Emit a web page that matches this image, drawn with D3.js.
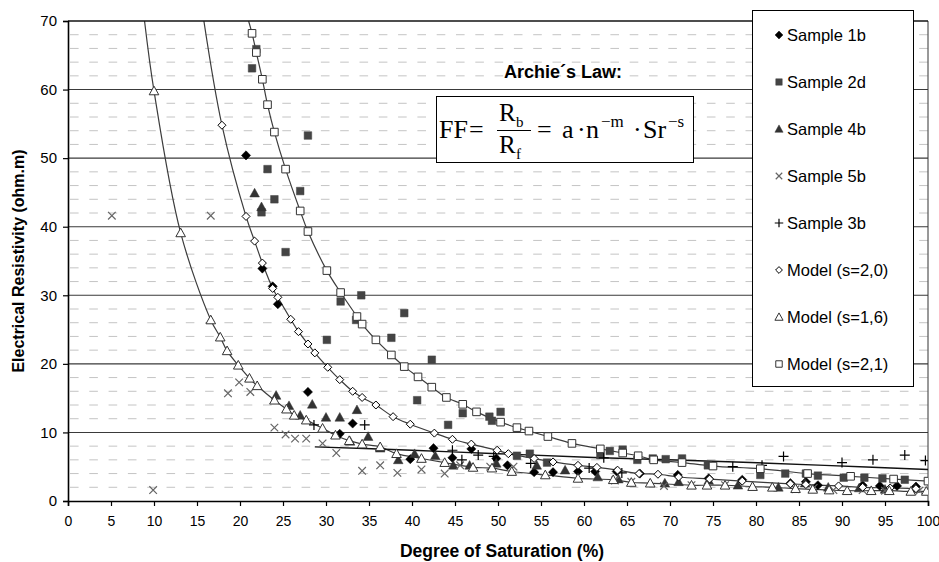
<!DOCTYPE html>
<html>
<head>
<meta charset="utf-8">
<script src="https://cdn.jsdelivr.net/npm/d3@7"></script>
<style>
  body { margin: 0; background: #fff; }
  svg { display: block; }
</style>
</head>
<body>
<svg id="chart"></svg>
<script>
const width = 939
const height = 562

// Axis ticks
const xTicks = [0, 5, 10, 15, 20, 25, 30, 35, 40, 45, 50, 55, 60, 65, 70, 75, 80, 85, 90, 95, 100]
const yTicks = [0, 10, 20, 30, 40, 50, 60, 70]
const yMinor = [2, 4, 6, 8, 12, 14, 16, 18, 22, 24, 26, 28, 32, 34, 36, 38, 42, 44, 46, 48, 52, 54, 56, 58, 62, 64, 66, 68]

// [saturation %, resistivity ohm.m]
const sample1b = [[20.7, 50.4], [22.6, 33.9], [23.8, 31.3], [24.4, 28.7], [27.9, 15.9], [31.6, 9.8], [33.1, 11.3],
  [39.8, 6.1], [42.5, 7.7], [44.7, 6.3], [46.9, 7.6], [49.8, 6.2], [51.1, 5.2], [54.2, 4.2], [56.4, 4.2], [59.3, 4.3],
  [61.3, 4.3], [63.8, 4.3], [66.5, 4.0], [70.9, 3.8], [74.5, 3.3], [78.4, 3.1], [84.0, 2.6], [85.8, 2.8], [87.2, 2.3],
  [92.4, 2.3], [94.4, 2.2], [96.4, 2.2], [98.6, 2.1]]
const sample2d = [[21.9, 65.9], [21.4, 63.1], [27.9, 53.3], [23.2, 48.4], [27.0, 45.2], [24.0, 44.0], [22.5, 42.1],
  [25.3, 36.3], [34.1, 30.0], [31.7, 29.1], [39.1, 27.4], [33.5, 26.4], [30.1, 23.5], [37.6, 23.8], [42.3, 20.6],
  [40.6, 14.7], [44.2, 11.1], [45.9, 12.8], [49.0, 12.3], [49.3, 11.7], [50.3, 13.0], [52.2, 6.6], [53.7, 6.9],
  [55.7, 5.6], [61.9, 6.7], [63.0, 7.3], [64.5, 7.5], [66.2, 6.0], [68.0, 6.2], [69.5, 6.1], [71.4, 6.2], [74.4, 5.2],
  [80.5, 3.8], [83.4, 4.0], [85.8, 4.0], [87.2, 3.7], [90.2, 3.4], [92.6, 3.4], [94.7, 3.3], [97.3, 3.1]]
const sample4b = [[21.7, 44.9], [22.5, 42.9], [24.2, 15.4], [25.7, 13.9], [27.0, 12.5], [28.4, 14.1], [30.0, 12.2],
  [31.6, 12.2], [33.6, 13.3], [32.8, 8.7], [34.9, 9.4], [36.3, 7.7], [38.4, 6.0], [40.3, 6.9], [42.7, 6.6], [44.8, 5.2],
  [46.7, 5.2], [49.8, 5.5], [54.5, 5.2], [57.8, 4.5], [61.6, 3.5], [64.0, 3.2], [69.4, 2.6], [71.0, 2.8], [74.5, 3.0],
  [77.9, 2.3], [82.6, 2.0], [85.7, 2.6], [88.4, 2.0], [92.0, 1.9], [95.0, 1.7], [98.5, 1.8]]
const sample5b = [[5.1, 41.6], [9.9, 1.6], [16.6, 41.6], [18.6, 15.7], [19.9, 17.3], [21.2, 15.9], [24.0, 10.7],
  [25.3, 9.7], [26.4, 9.1], [27.7, 9.1], [29.6, 8.4], [31.2, 7.0], [34.2, 4.4], [36.3, 5.2], [38.3, 4.1], [41.1, 4.6],
  [43.8, 4.0], [45.6, 5.2], [49.1, 5.0], [51.8, 5.0], [63.6, 3.0], [65.5, 2.8], [69.3, 2.2], [72.5, 2.3], [76.4, 2.3],
  [84.6, 1.7], [86.7, 1.9], [89.0, 1.6], [92.4, 1.6], [95.0, 1.5], [99.0, 1.5]]
const sample3b = [[28.6, 11.1], [34.5, 11.1], [44.7, 7.4], [45.8, 6.0], [47.7, 6.7], [49.5, 6.5], [53.8, 5.5],
  [60.6, 4.8], [62.3, 6.3], [64.4, 4.1], [77.3, 5.0], [80.7, 5.2], [83.2, 6.5], [90.0, 5.6], [93.6, 6.0], [97.3, 6.7],
  [99.7, 5.9]]
const model20 = [[17.9, 54.8], [20.7, 41.5], [21.7, 37.9], [22.6, 34.7], [23.8, 31.0], [24.4, 29.7], [25.9, 26.5],
  [26.8, 24.7], [27.9, 22.9], [28.7, 21.6], [30.2, 19.5], [31.6, 17.7], [33.1, 16.0], [34.2, 15.1], [35.8, 14.0],
  [37.8, 12.3], [39.8, 11.2], [42.6, 9.9], [44.7, 9.0], [46.9, 8.3], [49.9, 7.4], [51.2, 6.9], [54.2, 6.2], [56.4, 5.7],
  [59.3, 5.2], [61.5, 4.9], [63.9, 4.5], [66.4, 4.0], [68.6, 3.9], [71.0, 3.5], [74.6, 3.2], [78.4, 2.9], [84.0, 2.5],
  [85.8, 2.4], [89.6, 2.2], [92.4, 2.0], [95.6, 1.9], [98.6, 1.8]]
const model16 = [[10.0, 59.8], [13.1, 39.1], [16.6, 26.4], [17.7, 23.9], [18.5, 21.9], [19.8, 19.8], [21.1, 17.9],
  [22.0, 16.8], [24.0, 14.7], [25.4, 13.4], [26.3, 12.5], [27.7, 11.8], [29.6, 10.6], [31.1, 9.6], [32.7, 8.8],
  [34.2, 8.3], [36.3, 7.9], [38.2, 6.9], [41.1, 6.2], [43.8, 5.6], [47.1, 4.9], [49.3, 4.8], [51.6, 4.3], [55.5, 3.8],
  [59.3, 3.3], [63.4, 3.1], [65.5, 2.7], [67.7, 2.6], [72.5, 2.3], [74.3, 2.3], [76.4, 2.3], [79.6, 2.1], [81.9, 2.0],
  [84.6, 1.8], [86.6, 1.7], [88.5, 1.6], [90.6, 1.5], [93.4, 1.5], [95.5, 1.5], [98.0, 1.4], [99.8, 1.4]]
const model21 = [[21.4, 68.2], [21.9, 65.4], [22.6, 61.5], [23.2, 57.8], [24.0, 53.8], [25.3, 48.4], [27.0, 42.3],
  [27.9, 39.3], [30.1, 33.6], [31.7, 30.4], [33.6, 26.9], [34.2, 25.8], [35.8, 23.5], [37.6, 21.3], [39.1, 19.6],
  [40.7, 18.1], [42.3, 16.6], [44.0, 15.1], [45.9, 14.1], [47.5, 13.0], [50.3, 11.5], [52.2, 10.7], [53.6, 10.2],
  [55.8, 9.4], [58.6, 8.4], [61.9, 7.6], [64.5, 7.0], [66.3, 6.6], [68.1, 6.0], [71.4, 5.6], [75.0, 5.1], [80.5, 4.7],
  [86.0, 4.0], [91.0, 3.6], [96.0, 3.2], [100.0, 2.9]]
// where each model curve leaves the top of the plot
const model20Top = [15.8, 70]
const model16Top = [8.9, 70]
const model21Top = [21.0, 70]
// trend line through sample 3b
const trend3b = [[28.7, 7.9], [40, 7.4], [50, 6.9], [62, 6.3], [75, 5.8], [88, 5.2], [100, 4.6]]

const seriesNames = ['Sample 1b', 'Sample 2d', 'Sample 4b', 'Sample 5b', 'Sample 3b',
  'Model (s=2,0)', 'Model (s=1,6)', 'Model (s=2,1)']

const sans = 'Arial, "Liberation Sans", sans-serif'
const serif = '"Liberation Serif", "Times New Roman", serif'

// marker shapes
function shapePath(shape, r) {
  if (shape === 'diamond') return `M0,${-r}L${r},0L0,${r}L${-r},0Z`
  if (shape === 'square') return `M${-r},${-r}h${2 * r}v${2 * r}h${-2 * r}Z`
  if (shape === 'triangle') return `M0,${-r}L${r},${r * 0.8}L${-r},${r * 0.8}Z`
  if (shape === 'x') return `M${-r},${-r}L${r},${r}M${-r},${r}L${r},${-r}`
  return `M${-r},0H${r}M0,${-r}V${r}`
}

const series = [
  { data: sample1b, shape: 'diamond', r: 4.6, fill: '#000', stroke: '#000', sw: 0.5 },
  { data: sample2d, shape: 'square', r: 3.8, fill: '#444', stroke: '#444', sw: 0.5 },
  { data: sample4b, shape: 'triangle', r: 4.8, fill: '#333', stroke: '#333', sw: 0.5 },
  { data: sample5b, shape: 'x', r: 3.8, fill: 'none', stroke: '#666', sw: 1.2 },
  { data: sample3b, shape: 'plus', r: 5, fill: 'none', stroke: '#000', sw: 1.2 },
  { data: model20, shape: 'diamond', r: 4, fill: '#fff', stroke: '#000', sw: 1, top: model20Top },
  { data: model16, shape: 'triangle', r: 4.8, fill: '#fff', stroke: '#333', sw: 1, top: model16Top },
  { data: model21, shape: 'square', r: 3.8, fill: '#fff', stroke: '#333', sw: 1, top: model21Top }
]

const svg = d3.select('#chart')
  .attr('width', width)
  .attr('height', height)
  .attr('font-family', sans)

const x = d3.scaleLinear().domain([0, 100]).range([68, 928])
const y = d3.scaleLinear().domain([0, 70]).range([501, 21])

// Minor dashed grid
svg.append('g')
  .selectAll('line')
  .data(yMinor)
  .enter()
  .append('line')
  .attr('x1', x(0) + 2).attr('x2', x(100))
  .attr('y1', d => y(d)).attr('y2', d => y(d))
  .attr('stroke', '#c4c4c4')
  .attr('stroke-width', 1)
  .attr('stroke-dasharray', '8.6,10.7')

// Major grid
svg.append('g')
  .selectAll('line')
  .data(yTicks.slice(1))
  .enter()
  .append('line')
  .attr('x1', x(0)).attr('x2', x(100))
  .attr('y1', d => y(d)).attr('y2', d => y(d))
  .attr('stroke', '#3a3a3a')
  .attr('stroke-width', 1.1)

// right border
svg.append('line')
  .attr('x1', x(100)).attr('x2', x(100))
  .attr('y1', y(0)).attr('y2', y(70))
  .attr('stroke', '#333')

// Axes
const xAxis = svg.append('g')
  .attr('transform', `translate(0,${y(0)})`)
  .call(d3.axisBottom(x).tickValues(xTicks).tickSize(5).tickPadding(10))
const yAxis = svg.append('g')
  .attr('transform', `translate(${x(0)},0)`)
  .call(d3.axisLeft(y).tickValues(yTicks).tickSize(5).tickPadding(6))
for (const ax of [xAxis, yAxis]) {
  ax.attr('font-family', sans)
  ax.select('.domain').attr('stroke', '#000').attr('stroke-width', 1.6)
  ax.selectAll('.tick line').attr('stroke', '#000').attr('stroke-width', 1.2)
  ax.selectAll('.tick text').attr('font-size', 15).attr('fill', '#000')
}
xAxis.selectAll('.tick text').attr('font-size', 14)

// Clip for the plot area
svg.append('clipPath').attr('id', 'plotclip')
  .append('rect')
  .attr('x', x(0)).attr('y', y(70))
  .attr('width', x(100) - x(0)).attr('height', y(0) - y(70))

const plot = svg.append('g').attr('clip-path', 'url(#plotclip)')

const smooth = d3.line()
  .x(d => x(d[0])).y(d => y(d[1]))
  .curve(d3.curveCatmullRom.alpha(0.5))

// Model curves
for (const s of series) {
  if (!s.top) continue
  plot.append('path')
    .datum([s.top].concat(s.data))
    .attr('d', smooth)
    .attr('fill', 'none')
    .attr('stroke', '#3c3c3c')
    .attr('stroke-width', 1.2)
}

// Trend line for sample 3b
plot.append('path')
  .datum(trend3b)
  .attr('d', smooth)
  .attr('fill', 'none')
  .attr('stroke', '#111')
  .attr('stroke-width', 1.4)

// Markers
for (const s of series) {
  plot.append('g')
    .selectAll('path')
    .data(s.data)
    .enter()
    .append('path')
    .attr('transform', d => `translate(${x(d[0])},${y(d[1])})`)
    .attr('d', shapePath(s.shape, s.r))
    .attr('fill', s.fill)
    .attr('stroke', s.stroke)
    .attr('stroke-width', s.sw)
}

// top border line
svg.append('line')
  .attr('x1', x(0)).attr('x2', x(100))
  .attr('y1', y(70)).attr('y2', y(70))
  .attr('stroke', '#000').attr('stroke-width', 1.2)

// Axis titles
svg.append('text')
  .attr('x', (x(0) + x(100)) / 2 + 4)
  .attr('y', 557)
  .attr('text-anchor', 'middle')
  .attr('font-size', 17.5)
  .attr('font-weight', 'bold')
  .text('Degree of Saturation (%)')

svg.append('text')
  .attr('transform', `translate(24,${(y(0) + y(70)) / 2}) rotate(-90)`)
  .attr('text-anchor', 'middle')
  .attr('font-size', 16)
  .attr('font-weight', 'bold')
  .text('Electrical Resistivity (ohm.m)')

// Legend
const legend = svg.append('g')
legend.append('rect')
  .attr('x', 752.5).attr('y', 10.5)
  .attr('width', 161).attr('height', 376)
  .attr('fill', '#fff').attr('stroke', '#000')
seriesNames.forEach((name, i) => {
  const s = series[i]
  const cy = 35 + i * 47
  legend.append('path')
    .attr('transform', `translate(779,${cy})`)
    .attr('d', shapePath(s.shape, s.r * 0.85))
    .attr('fill', s.fill).attr('stroke', s.stroke).attr('stroke-width', s.sw)
  legend.append('text')
    .attr('x', 787).attr('y', cy + 6)
    .attr('font-size', 16.5)
    .text(name)
})

// Archie's law annotation
svg.append('text')
  .attr('x', 563).attr('y', 78)
  .attr('text-anchor', 'middle')
  .attr('font-size', 18)
  .attr('font-weight', 'bold')
  .text('Archie´s Law:')

const eq = svg.append('g').attr('font-family', serif)
eq.append('rect')
  .attr('x', 436.5).attr('y', 96.5)
  .attr('width', 257).attr('height', 66)
  .attr('fill', '#fff').attr('stroke', '#000')
function eqText(tx, ty, size, str) {
  eq.append('text').attr('x', tx).attr('y', ty)
    .attr('font-size', size).attr('font-family', serif).text(str)
}
eqText(439, 138, 26, 'FF')
eqText(469, 138, 26, '=')
eqText(499, 121, 25, 'R')
eqText(516, 127, 15, 'b')
eq.append('line').attr('x1', 497).attr('x2', 531).attr('y1', 130.5).attr('y2', 130.5)
  .attr('stroke', '#000').attr('stroke-width', 1.2)
eqText(499, 153, 25, 'R')
eqText(516, 159, 15, 'f')
eqText(537, 138, 26, '=')
eqText(562, 138, 26, 'a')
eqText(577, 138, 26, '·')
eqText(586, 138, 26, 'n')
eqText(601, 127, 17, '−m')
eqText(633, 138, 26, '·')
eqText(643, 138, 26, 'Sr')
eqText(668, 127, 17, '−s')
</script>
</body>
</html>
